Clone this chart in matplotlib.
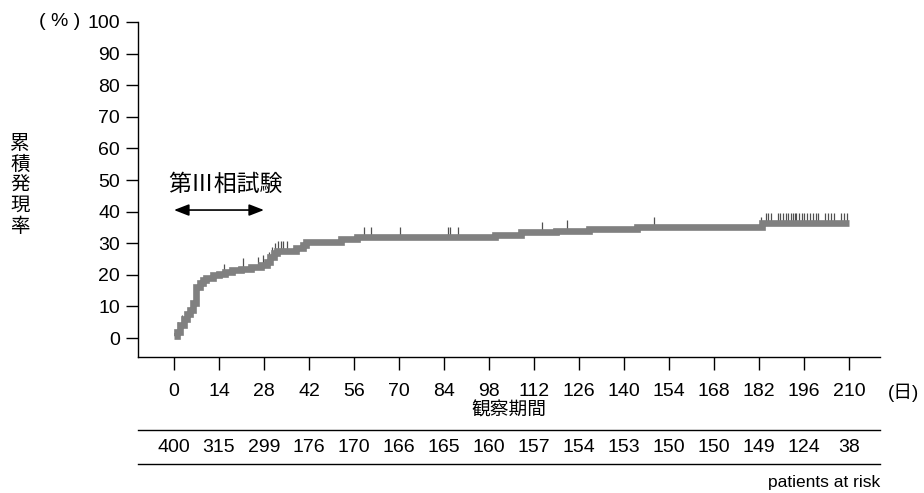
import numpy as np
import matplotlib
matplotlib.use("Agg")
import matplotlib.pyplot as plt
from matplotlib.transforms import blended_transform_factory
from matplotlib.lines import Line2D

plt.rcParams['font.family'] = ['Liberation Sans', 'Noto Sans CJK JP', 'DejaVu Sans']

# === dane ===
# krzywa skumulowanej czestosci (schodkowa, where='post')
step_days = [0, 1, 2, 3, 4, 5, 6, 7, 8, 9, 10, 12, 14, 16, 18, 21, 24, 27, 29, 30,
             31, 32, 38, 40, 41, 52, 57, 100, 108, 119, 129, 144, 183, 210]
step_pct = [0.5, 2.0, 4.0, 6.0, 7.5, 9.0, 11.0, 16.0, 17.5, 18.5, 19.0, 19.8, 20.3, 21.0,
            21.5, 22.0, 22.5, 23.0, 24.0, 25.5, 27.0, 27.5, 28.5, 29.5, 30.3, 31.3, 32.0,
            32.7, 33.4, 34.0, 34.4, 35.0, 36.4, 36.4]

# obserwacje ucinane (censoring)
censor_days = [1.3, 2.6, 15.6, 21.4, 26.0, 27.8, 29.5, 30.4, 31.4, 32.5, 33.3, 34.0, 35.1,
               59.2, 61.3, 70.3, 85.3, 86.0, 88.3, 114.4, 122.4, 149.4,
               182.8, 184.2, 184.9, 185.7, 188.0, 188.7, 189.4, 190.3, 191.2, 191.9,
               192.5, 193.1, 193.7, 194.5, 195.3, 196.1, 197.0, 197.9, 198.7, 199.8,
               200.5, 202.6, 203.4, 204.3, 205.4, 207.7, 208.5, 209.5]

x_ticks = [0, 14, 28, 42, 56, 70, 84, 98, 112, 126, 140, 154, 168, 182, 196, 210]
y_ticks = [0, 10, 20, 30, 40, 50, 60, 70, 80, 90, 100]
at_risk = [400, 315, 299, 176, 170, 166, 165, 160, 157, 154, 153, 150, 150, 149, 124, 38]

FS = 14
JP = ['Noto Sans CJK JP', 'DejaVu Sans']
W, H = 924, 493
fig = plt.figure(figsize=(W / 100, H / 100), dpi=100)
ax = fig.add_axes([138 / W, 1 - 357 / H, 742 / W, 335 / H])

ax.plot(step_days, step_pct, drawstyle='steps-post', color='#808080', lw=4.8,
        solid_capstyle='butt', solid_joinstyle='miter', zorder=3)

# kreski cenzurowania
idx = np.searchsorted(step_days, censor_days, side='right') - 1
cy = np.array(step_pct)[idx]
ax.vlines(censor_days, cy, cy + 3.2, color='#505050', lw=0.9, zorder=2)

ax.set_xlim(-11.2, 219.7)
ax.set_ylim(-6, 100)
ax.set_xticks(x_ticks)
ax.set_yticks(y_ticks)
ax.spines['top'].set_visible(False)
ax.spines['right'].set_visible(False)
for s in ('left', 'bottom'):
    ax.spines[s].set_linewidth(1.0)
ax.tick_params(axis='both', direction='out', length=9, width=1.0, labelsize=FS)
ax.tick_params(axis='x', pad=10)
ax.tick_params(axis='y', pad=4)

# strzalka fazy III
ax.annotate('', xy=(28, 40.5), xytext=(0, 40.5),
            arrowprops=dict(arrowstyle='<|-|>,head_length=0.9,head_width=0.35',
                            color='black', lw=1.2, shrinkA=0, shrinkB=0))
ax.text(15.9, 48.5, '第Ⅲ相試験', ha='center', va='center', fontsize=16.5, family=JP)

bt = blended_transform_factory(ax.transData, ax.transAxes)
for d, n in zip(x_ticks, at_risk):
    ax.text(d, -0.269, str(n), transform=bt, ha='center', va='center', fontsize=FS)

ax.text(0.5, -0.157, '観察期間', transform=ax.transAxes, ha='center', va='center',
        fontsize=13.5, family=JP)
ax.text(1.031, -0.107, '(日)', transform=ax.transAxes, ha='center', va='center',
        fontsize=13.5)
ax.text(1.0, -0.376, 'patients at risk', transform=ax.transAxes, ha='right',
        va='center', fontsize=12.5)

for yy in (-0.218, -0.319):
    ax.add_artist(Line2D([0, 1], [yy, yy], transform=ax.transAxes, color='black',
                         lw=1.0, clip_on=False))

fig.text(60 / W, 1 - 22 / H, '( % )', ha='center', va='center', fontsize=FS)
fig.text(20 / W, 1 - 185 / H, '\n'.join('累積発現率'), ha='center', va='center',
         fontsize=14, linespacing=0.98, family=JP)

fig.savefig('out.png', dpi=100)
